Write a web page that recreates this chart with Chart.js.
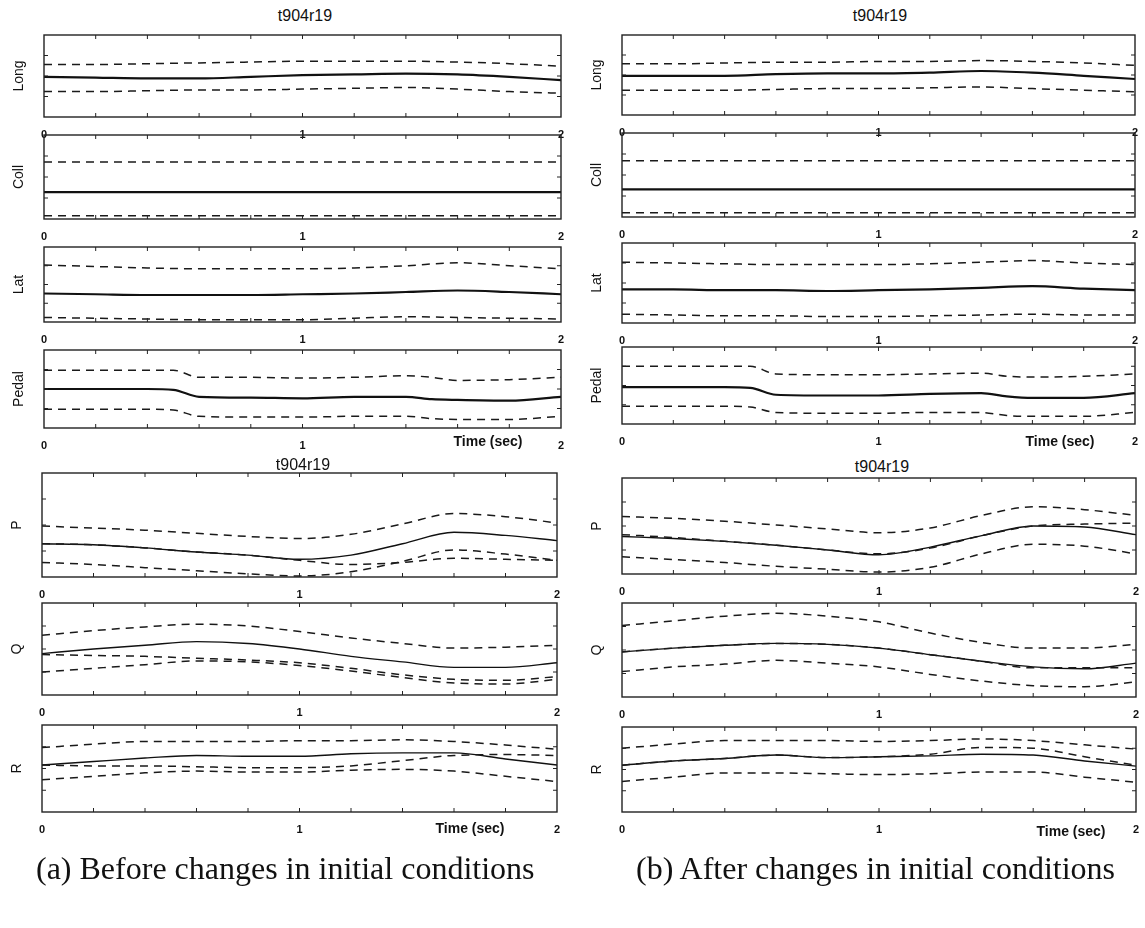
<!DOCTYPE html>
<html>
<head>
<meta charset="utf-8">
<script src="https://cdn.jsdelivr.net/npm/chart.js@4.4.1/dist/chart.umd.min.js"></script>
<style>
  html, body { margin: 0; padding: 0; background: #fff; }
  body { position: relative; width: 1145px; height: 928px; overflow: hidden; font-family: "Liberation Sans", Arial, sans-serif; }
  .txt { position: absolute; color: #111; white-space: nowrap; transform: translate(-50%, -50%); }
  .ttl { font-size: 16px; }
  .tsec { font-size: 14px; font-weight: bold; }
  .cap { font-family: "Liberation Serif", "Times New Roman", serif; font-size: 32px; transform: translate(0, -50%); }
</style>
</head>
<body>
<script>
// time bases (sec)
const T = [0, 0.2, 0.4, 0.6, 0.8, 1.0, 1.2, 1.4, 1.6, 1.8, 2.0];
const TP = [0, 0.2, 0.4, 0.5, 0.6, 0.8, 1.0, 1.2, 1.4, 1.5, 1.6, 1.8, 2.0];

// values are fractions of each panel's height (0 = bottom edge, 1 = top edge)
// (a) before changes in initial conditions
const aLongUp  = [0.64, 0.64, 0.65, 0.66, 0.67, 0.68, 0.68, 0.68, 0.67, 0.65, 0.62];
const aLongAct = [0.49, 0.48, 0.47, 0.47, 0.49, 0.51, 0.52, 0.53, 0.52, 0.49, 0.45];
const aLongLo  = [0.31, 0.31, 0.32, 0.33, 0.33, 0.34, 0.35, 0.36, 0.34, 0.31, 0.29];
const aCollUp  = [0.68, 0.68, 0.68, 0.68, 0.68, 0.68, 0.68, 0.68, 0.68, 0.68, 0.68];
const aCollAct = [0.32, 0.32, 0.32, 0.32, 0.32, 0.32, 0.32, 0.32, 0.32, 0.32, 0.32];
const aCollLo  = [0.04, 0.04, 0.04, 0.04, 0.04, 0.04, 0.04, 0.04, 0.04, 0.04, 0.04];
const aLatUp   = [0.76, 0.74, 0.72, 0.71, 0.71, 0.71, 0.72, 0.75, 0.79, 0.75, 0.71];
const aLatAct  = [0.38, 0.37, 0.36, 0.36, 0.36, 0.37, 0.38, 0.40, 0.42, 0.40, 0.37];
const aLatLo   = [0.06, 0.05, 0.04, 0.03, 0.03, 0.03, 0.05, 0.07, 0.06, 0.05, 0.04];
const aPedUp   = [0.74, 0.74, 0.74, 0.74, 0.65, 0.65, 0.64, 0.65, 0.67, 0.65, 0.61, 0.62, 0.65];
const aPedAct  = [0.50, 0.50, 0.50, 0.49, 0.40, 0.39, 0.38, 0.40, 0.40, 0.37, 0.36, 0.35, 0.40];
const aPedLo   = [0.24, 0.24, 0.24, 0.23, 0.15, 0.14, 0.14, 0.15, 0.15, 0.12, 0.11, 0.11, 0.15];
const aPUp     = [0.49, 0.47, 0.45, 0.42, 0.39, 0.37, 0.41, 0.51, 0.61, 0.58, 0.52];
const aPAct    = [0.32, 0.31, 0.28, 0.24, 0.21, 0.17, 0.21, 0.32, 0.43, 0.40, 0.35];
const aPLo     = [0.14, 0.12, 0.09, 0.06, 0.03, 0.01, 0.05, 0.15, 0.26, 0.22, 0.16];
const aPMod    = [0.32, 0.31, 0.28, 0.24, 0.21, 0.16, 0.12, 0.14, 0.18, 0.17, 0.16];
const aQUp     = [0.65, 0.70, 0.74, 0.77, 0.75, 0.69, 0.62, 0.56, 0.51, 0.52, 0.54];
const aQAct    = [0.45, 0.50, 0.54, 0.58, 0.56, 0.50, 0.42, 0.36, 0.30, 0.30, 0.35];
const aQMod    = [0.44, 0.43, 0.42, 0.40, 0.38, 0.35, 0.29, 0.22, 0.17, 0.16, 0.20];
const aQLo     = [0.25, 0.29, 0.33, 0.37, 0.36, 0.32, 0.26, 0.19, 0.13, 0.12, 0.17];
const aRUp     = [0.74, 0.78, 0.81, 0.81, 0.81, 0.82, 0.82, 0.83, 0.81, 0.77, 0.72];
const aRAct    = [0.54, 0.58, 0.62, 0.65, 0.64, 0.64, 0.67, 0.68, 0.68, 0.61, 0.54];
const aRMod    = [0.54, 0.53, 0.53, 0.52, 0.51, 0.51, 0.53, 0.59, 0.65, 0.66, 0.65];
const aRLo     = [0.37, 0.41, 0.45, 0.47, 0.46, 0.46, 0.48, 0.49, 0.47, 0.41, 0.35];

// (b) after changes in initial conditions
const bLongUp  = [0.64, 0.64, 0.65, 0.66, 0.66, 0.67, 0.67, 0.68, 0.67, 0.65, 0.62];
const bLongAct = [0.49, 0.49, 0.49, 0.51, 0.52, 0.52, 0.53, 0.55, 0.53, 0.49, 0.45];
const bLongLo  = [0.31, 0.31, 0.31, 0.32, 0.33, 0.33, 0.34, 0.35, 0.33, 0.31, 0.29];
const bCollUp  = [0.67, 0.67, 0.67, 0.67, 0.67, 0.67, 0.67, 0.67, 0.67, 0.67, 0.67];
const bCollAct = [0.33, 0.33, 0.33, 0.33, 0.33, 0.33, 0.33, 0.33, 0.33, 0.33, 0.33];
const bCollLo  = [0.05, 0.05, 0.05, 0.05, 0.05, 0.05, 0.05, 0.05, 0.05, 0.05, 0.05];
const bLatUp   = [0.76, 0.75, 0.74, 0.73, 0.73, 0.73, 0.74, 0.76, 0.78, 0.75, 0.73];
const bLatAct  = [0.42, 0.42, 0.41, 0.41, 0.40, 0.41, 0.42, 0.44, 0.46, 0.43, 0.41];
const bLatLo   = [0.11, 0.10, 0.09, 0.09, 0.08, 0.08, 0.09, 0.10, 0.11, 0.10, 0.10];
const bPedUp   = [0.75, 0.75, 0.75, 0.75, 0.65, 0.64, 0.64, 0.65, 0.66, 0.62, 0.61, 0.62, 0.65];
const bPedAct  = [0.48, 0.48, 0.48, 0.47, 0.38, 0.37, 0.37, 0.39, 0.40, 0.36, 0.34, 0.34, 0.40];
const bPedLo   = [0.23, 0.23, 0.23, 0.22, 0.15, 0.14, 0.14, 0.15, 0.15, 0.11, 0.10, 0.10, 0.15];
const bPUp     = [0.60, 0.58, 0.55, 0.51, 0.47, 0.43, 0.48, 0.61, 0.70, 0.67, 0.61];
const bPAct    = [0.39, 0.37, 0.34, 0.30, 0.25, 0.20, 0.28, 0.40, 0.50, 0.49, 0.41];
const bPLo     = [0.18, 0.15, 0.12, 0.08, 0.05, 0.02, 0.07, 0.21, 0.31, 0.29, 0.21];
const bPMod    = [0.41, 0.38, 0.34, 0.30, 0.25, 0.21, 0.27, 0.40, 0.50, 0.52, 0.53];
const bQUp     = [0.76, 0.81, 0.86, 0.89, 0.86, 0.80, 0.68, 0.58, 0.52, 0.52, 0.56];
const bQAct    = [0.48, 0.52, 0.55, 0.57, 0.56, 0.52, 0.45, 0.38, 0.32, 0.30, 0.36];
const bQMod    = [0.48, 0.52, 0.55, 0.57, 0.56, 0.52, 0.45, 0.38, 0.31, 0.31, 0.31];
const bQLo     = [0.27, 0.32, 0.35, 0.39, 0.36, 0.32, 0.24, 0.17, 0.12, 0.11, 0.16];
const bRUp     = [0.75, 0.80, 0.84, 0.84, 0.84, 0.83, 0.84, 0.86, 0.84, 0.79, 0.74];
const bRAct    = [0.55, 0.60, 0.63, 0.67, 0.64, 0.65, 0.66, 0.68, 0.67, 0.60, 0.54];
const bRMod    = [0.55, 0.60, 0.63, 0.67, 0.64, 0.65, 0.68, 0.76, 0.75, 0.65, 0.55];
const bRLo     = [0.36, 0.41, 0.46, 0.46, 0.45, 0.44, 0.45, 0.47, 0.47, 0.41, 0.35];

const xTickLabels = ['0', '1', '2'];
const runTitle = 't904r19';

// panel boxes: x, y, w, h of the plot frame on the page
const panels = [
  { x: 44,  y: 35,  w: 517, h: 82, label: 'Long',  t: T,  act: aLongAct, dash: [aLongUp, aLongLo] },
  { x: 44,  y: 135, w: 517, h: 84, label: 'Coll',  t: T,  act: aCollAct, dash: [aCollUp, aCollLo] },
  { x: 44,  y: 247, w: 517, h: 75, label: 'Lat',   t: T,  act: aLatAct,  dash: [aLatUp, aLatLo] },
  { x: 44,  y: 350, w: 517, h: 78, label: 'Pedal', t: TP, act: aPedAct,  dash: [aPedUp, aPedLo] },
  { x: 42,  y: 473, w: 515, h: 104, label: 'P',    t: T,  act: aPAct,    dash: [aPUp, aPLo, aPMod], smooth: true },
  { x: 42,  y: 603, w: 515, h: 92, label: 'Q',     t: T,  act: aQAct,    dash: [aQUp, aQLo, aQMod], smooth: true },
  { x: 42,  y: 725, w: 515, h: 87, label: 'R',     t: T,  act: aRAct,    dash: [aRUp, aRLo, aRMod], smooth: true },
  { x: 622, y: 35,  w: 513, h: 80, label: 'Long',  t: T,  act: bLongAct, dash: [bLongUp, bLongLo] },
  { x: 622, y: 133, w: 513, h: 84, label: 'Coll',  t: T,  act: bCollAct, dash: [bCollUp, bCollLo] },
  { x: 622, y: 243, w: 513, h: 80, label: 'Lat',   t: T,  act: bLatAct,  dash: [bLatUp, bLatLo] },
  { x: 622, y: 347, w: 513, h: 77, label: 'Pedal', t: TP, act: bPedAct,  dash: [bPedUp, bPedLo] },
  { x: 622, y: 478, w: 514, h: 96, label: 'P',     t: T,  act: bPAct,    dash: [bPUp, bPLo, bPMod], smooth: true },
  { x: 622, y: 603, w: 514, h: 94, label: 'Q',     t: T,  act: bQAct,    dash: [bQUp, bQLo, bQMod], smooth: true },
  { x: 622, y: 727, w: 514, h: 85, label: 'R',     t: T,  act: bRAct,    dash: [bRUp, bRLo, bRMod], smooth: true }
];

// frame with inward ticks, like the original plots
const framePlugin = {
  id: 'frame',
  afterDatasetsDraw(chart) {
    const { ctx, chartArea: a, scales } = chart;
    ctx.save();
    ctx.strokeStyle = '#222';
    ctx.lineWidth = 1.4;
    ctx.strokeRect(a.left, a.top, a.right - a.left, a.bottom - a.top);
    ctx.lineWidth = 1;
    ctx.beginPath();
    for (let k = 1; k < 10; k++) {
      const px = scales.x.getPixelForValue(k * 0.2);
      ctx.moveTo(px, a.bottom); ctx.lineTo(px, a.bottom - 4);
      ctx.moveTo(px, a.top); ctx.lineTo(px, a.top + 4);
    }
    for (const v of [0.25, 0.5, 0.75]) {
      const py = scales.y.getPixelForValue(v);
      ctx.moveTo(a.left, py); ctx.lineTo(a.left + 4, py);
      ctx.moveTo(a.right, py); ctx.lineTo(a.right - 4, py);
    }
    ctx.stroke();
    ctx.restore();
  }
};

const padL = 44, padR = 12, padT = 2, padB = 28;

function makePanel(p) {
  const wrap = document.createElement('div');
  wrap.style.position = 'absolute';
  wrap.style.left = (p.x - padL) + 'px';
  wrap.style.top = (p.y - padT) + 'px';
  wrap.style.width = (p.w + padL + padR) + 'px';
  wrap.style.height = (p.h + padT + padB) + 'px';
  const cv = document.createElement('canvas');
  wrap.appendChild(cv);
  document.body.appendChild(wrap);

  const pts = arr => p.t.map((t, i) => ({ x: t, y: arr[i] }));
  const datasets = p.dash.map(d => ({
    data: pts(d), borderColor: '#1a1a1a', borderWidth: 1.5, borderDash: [8, 6],
    pointRadius: 0, cubicInterpolationMode: 'monotone', fill: false
  }));
  datasets.push({
    data: pts(p.act), borderColor: '#111', borderWidth: p.smooth ? 1.4 : 2.2,
    pointRadius: 0, cubicInterpolationMode: 'monotone', fill: false
  });

  new Chart(cv, {
    type: 'line',
    data: { datasets },
    options: {
      responsive: true,
      maintainAspectRatio: false,
      animation: false,
      layout: { padding: { top: padT, right: padR, left: 0, bottom: 0 } },
      plugins: { legend: { display: false }, tooltip: { enabled: false } },
      scales: {
        x: {
          type: 'linear', min: 0, max: 2,
          ticks: {
            stepSize: 1, maxRotation: 0, padding: 3, color: '#111',
            autoSkip: false,
            font: { family: 'Liberation Sans', size: 11, weight: 'bold' },
            callback: v => xTickLabels[Math.round(v)]
          },
          grid: { display: false },
          border: { display: false },
          afterFit(s) { s.height = padB; }
        },
        y: {
          min: 0, max: 1,
          ticks: { display: false },
          grid: { display: false },
          border: { display: false },
          title: {
            display: true, text: p.label, color: '#111',
            font: { family: 'Liberation Sans', size: 14 },
            padding: { top: 11, bottom: 0 }
          },
          afterFit(s) { s.width = padL; }
        }
      }
    },
    plugins: [framePlugin]
  });
}

panels.forEach(makePanel);

// texts
function addText(cls, text, x, y) {
  const d = document.createElement('div');
  d.className = 'txt ' + cls;
  d.textContent = text;
  d.style.left = x + 'px';
  d.style.top = y + 'px';
  document.body.appendChild(d);
}
addText('ttl', runTitle, 305, 16);
addText('ttl', runTitle, 880, 16);
addText('ttl', runTitle, 303, 465);
addText('ttl', runTitle, 882, 467);
addText('tsec', 'Time (sec)', 488, 441);
addText('tsec', 'Time (sec)', 1060, 441);
addText('tsec', 'Time (sec)', 470, 828);
addText('tsec', 'Time (sec)', 1071, 831);
addText('cap', '(a) Before changes in initial conditions', 36, 868);
addText('cap', '(b) After changes in initial conditions', 636, 868);
</script>
</body>
</html>
